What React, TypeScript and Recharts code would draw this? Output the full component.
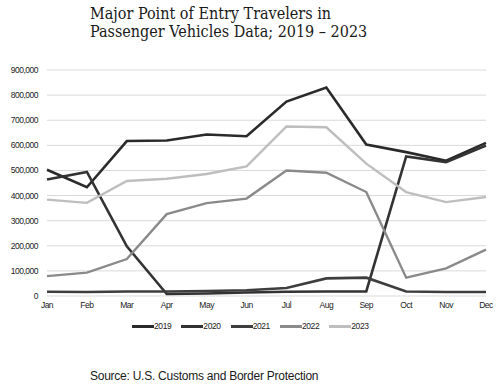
import { LineChart, Line, XAxis, YAxis, CartesianGrid } from 'recharts';

const months = ['Jan', 'Feb', 'Mar', 'Apr', 'May', 'Jun', 'Jul', 'Aug', 'Sep', 'Oct', 'Nov', 'Dec'];
const y2019 = [503000, 433000, 617000, 619000, 643000, 636000, 774000, 830000, 603000, 573000, 539000, 610000];
const y2020 = [464000, 494000, 198000, 8000, 10000, 14000, 17000, 18000, 18000, 556000, 533000, 599000];
const y2021 = [17000, 16000, 18000, 18000, 20000, 23000, 32000, 70000, 73000, 18000, 16000, 16000];
const y2022 = [79000, 93000, 147000, 326000, 370000, 388000, 500000, 491000, 414000, 73000, 110000, 185000];
const y2023 = [384000, 371000, 458000, 467000, 486000, 516000, 675000, 672000, 527000, 414000, 374000, 394000];
const yTicks = [0, 100000, 200000, 300000, 400000, 500000, 600000, 700000, 800000, 900000];

const series = [
  { key: 'y2019', name: '2019', color: '#2a2a2a', width: 2.6 },
  { key: 'y2020', name: '2020', color: '#333333', width: 2.6 },
  { key: 'y2021', name: '2021', color: '#3e3e3e', width: 2.6 },
  { key: 'y2022', name: '2022', color: '#8a8a8a', width: 2.4 },
  { key: 'y2023', name: '2023', color: '#bebebe', width: 2.4 },
];

const data = months.map((m, i) => ({
  month: m,
  y2019: y2019[i],
  y2020: y2020[i],
  y2021: y2021[i],
  y2022: y2022[i],
  y2023: y2023[i],
}));

const narrow = '"Liberation Sans", Arial, sans-serif';
const tickStyle = { fill: '#222', fontSize: 8.5, fontFamily: narrow, letterSpacing: -0.5 };

export default function App() {
  return (
    <div style={{ position: 'absolute', left: 0, top: 0, width: 500, height: 386, background: '#fff' }}>
      <div
        style={{
          position: 'absolute',
          left: 90,
          top: 5,
          fontFamily: '"DejaVu Serif Condensed", "DejaVu Serif", serif',
          fontSize: 16,
          lineHeight: '18px',
          color: '#1a1a1a',
        }}
      >
        Major Point of Entry Travelers in
        <br />
        Passenger Vehicles Data; 2019 – 2023
      </div>

      <div style={{ position: 'absolute', left: 0, top: 0 }}>
        <LineChart width={500} height={386} data={data} margin={{ top: 70, right: 14, bottom: 70, left: 0 }}>
          <CartesianGrid vertical={false} stroke="#d9d9d9" />
          <XAxis
            dataKey="month"
            axisLine={false}
            tickLine={false}
            tickSize={0}
            tickMargin={6}
            height={20}
            interval={0}
            tick={tickStyle}
          />
          <YAxis
            domain={[0, 900000]}
            ticks={yTicks}
            axisLine={false}
            tickLine={false}
            tickSize={0}
            tickMargin={9}
            width={47}
            tickFormatter={(v: number) => v.toLocaleString('en-US')}
            tick={tickStyle}
          />
          {series.map((s) => (
            <Line
              key={s.key}
              type="linear"
              dataKey={s.key}
              name={s.name}
              stroke={s.color}
              strokeWidth={s.width}
              dot={false}
              isAnimationActive={false}
            />
          ))}
        </LineChart>
      </div>

      <div
        style={{
          position: 'absolute',
          left: 132,
          top: 321,
          display: 'flex',
          gap: 10,
          fontFamily: narrow,
          fontSize: 8.5,
          letterSpacing: -0.4,
          color: '#222',
          alignItems: 'center',
        }}
      >
        {series.map((s) => (
          <div key={s.key} style={{ display: 'flex', alignItems: 'center' }}>
            <div style={{ width: 22, height: 3, background: s.color }} />
            <span>{s.name}</span>
          </div>
        ))}
      </div>

      <div
        style={{
          position: 'absolute',
          left: 90,
          top: 369,
          fontFamily: narrow,
          fontSize: 12,
          letterSpacing: -0.25,
          color: '#1a1a1a',
        }}
      >
        Source: U.S. Customs and Border Protection
      </div>
    </div>
  );
}
